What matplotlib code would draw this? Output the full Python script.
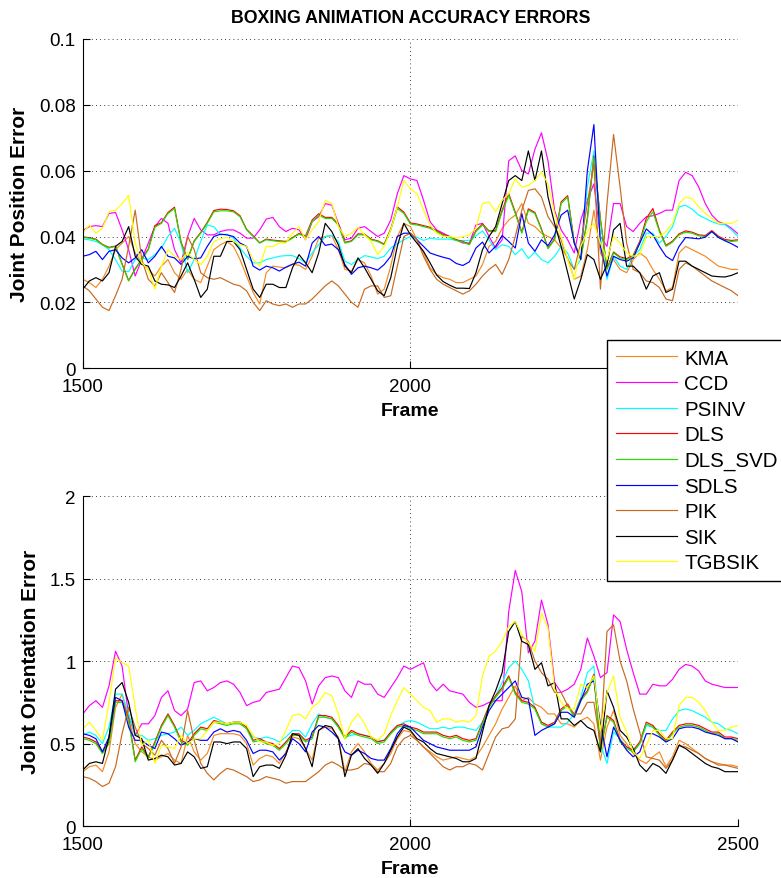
import numpy as np
import matplotlib
matplotlib.use("Agg")
import matplotlib.pyplot as plt

plt.rcParams['font.family'] = ['Liberation Sans', 'DejaVu Sans']

# frames sampled every 10
frames = np.arange(1500, 2501, 10)
names = ['KMA', 'CCD', 'PSINV', 'DLS', 'DLS_SVD', 'SDLS', 'PIK', 'SIK', 'TGBSIK']
colors = ['#f5891f', '#ff00ff', '#00ffff', '#ff0000', '#22dd00', '#0000ff', '#c8691e', '#000000', '#ffff00']

# joint position error, in units of 1e-3
pos_kma = [27, 26, 24.5, 27, 31, 36, 38, 40, 35, 32, 30, 28, 31, 33, 29, 27, 30, 27, 26, 31, 36, 37.5, 38.5, 37, 33, 28,
           23, 19.5, 29, 31, 30.7, 30.5, 31.5, 31.3, 30, 34, 39.5, 40, 40.3, 36, 30, 29.5, 33, 32, 28, 22.5, 24, 31, 40, 44, 43,
           39, 35, 30.5, 28.5, 27.5, 27, 26, 26, 27, 28, 31.5, 37, 38.5, 42.5, 45, 46.5, 50, 44, 43, 41, 40, 39, 36.5, 33.5, 27,
           28, 36, 48, 35, 31, 33, 30, 29, 33, 35, 33.5, 30, 27, 23.5, 24.5, 35, 37, 36, 35, 34, 32.5, 31, 30.5, 30, 30]
pos_ccd = [41.8, 43, 43.3, 43, 47, 47.3, 42, 36, 28, 33, 38, 43, 45.5, 44, 36, 32, 40, 45.5, 42, 40.5, 40.5, 41.5, 42, 42, 41, 39.5,
           39.5, 42, 45.3, 45.8, 43, 41.5, 42.5, 42, 39, 44.5, 46, 50, 49.5, 44, 39, 39.5, 42.5, 43, 41.5, 40, 41, 45, 53, 58.5, 57.5,
           57, 51, 44.5, 42, 41, 40, 39, 38, 38, 43.5, 44, 40, 36.5, 39, 63, 64.5, 60, 59, 66.5, 71.5, 63, 48, 42, 39, 35,
           45, 51, 56, 40, 37, 50, 50, 43, 41.5, 44, 46, 46.3, 47, 48, 48, 57, 59.5, 58.5, 55, 50, 46.5, 44.5, 43.8, 42.5, 40.8]
pos_psinv = [39.2, 39, 38.5, 37.5, 36, 33, 29.5, 29.3, 33, 33.5, 33, 34.5, 36.5, 40, 42.5, 38, 29, 33, 38.5, 43.5, 43, 40.5, 40.7, 39.5, 36.5, 34,
             32, 32, 33, 33.5, 34, 34.2, 34.2, 33.3, 32, 35, 37.5, 40, 40.3, 38.5, 32.5, 31.5, 33, 34.2, 33.8, 33.3, 34, 36.5, 37.8, 39, 40,
             39.8, 38.8, 39.5, 39.2, 39.2, 39.2, 38.8, 38.8, 38.8, 40.2, 41.7, 39, 36, 37.5, 37, 34.5, 36.3, 33.3, 35.3, 33, 32, 34, 37, 35, 30,
             33, 55, 66, 40, 27, 34, 31, 30, 34, 36, 41, 41, 38, 40, 43, 49, 49.5, 48.3, 46.5, 45.5, 44.5, 43.8, 43.6, 42, 40]
pos_dls = [39.9, 39.6, 39.2, 37.6, 36.7, 37.1, 31.7, 26.6, 30.2, 33.1, 36.2, 43.3, 44.2, 47.3, 48.9, 38.3, 33.1, 38.7, 41.2, 44.3, 47.9, 48.3, 48.2, 47.8, 46.3, 42.2,
           40.2, 38.1, 39.2, 38.9, 38.7, 38.5, 39.7, 40.9, 40.2, 45, 46.9, 45.8, 45.8, 43.8, 38.2, 38.7, 40.8, 40.7, 39.2, 38.7, 37.7, 42.3, 49, 47.4, 44.1,
           43.8, 43.3, 42.8, 41.8, 40.6, 40, 39, 38.5, 37.7, 41.8, 43.8, 41.7, 41.8, 48, 53, 47.4, 41.3, 48.4, 47.3, 42.3, 36.5, 39.3, 50.5, 52.4, 38.3,
           33.3, 45.5, 64.5, 45.3, 30.3, 35.3, 33.8, 33.3, 34.3, 38.5, 45.5, 48.5, 41.9, 37.3, 38.6, 40.8, 41.7, 41.3, 40.5, 40.3, 41.8, 40.1, 39.1, 38.8, 39]
pos_dls_svd = [39.7, 39.5, 39, 37.5, 36.5, 37, 31.5, 26.5, 30, 33, 36, 42.8, 44, 47, 48.5, 38, 33, 38.5, 41, 44, 47.5, 47.8, 47.8, 47.5, 46, 42,
               40, 38, 39, 38.7, 38.5, 38.3, 39.5, 40.7, 40, 44.5, 46.5, 45.5, 45.5, 43.5, 38, 38.5, 40.5, 40.5, 39, 38.5, 37.5, 42, 48.5, 47, 43.8,
               43.5, 43, 42.5, 41.5, 40.3, 39.8, 38.8, 38.3, 37.5, 41.5, 43.5, 41.5, 41.5, 47.5, 52.5, 47, 41, 48, 47, 42, 36.3, 39, 50, 52, 38,
               33, 45, 64, 45, 30, 35, 33.5, 33, 34, 38, 44.5, 47.5, 41.5, 37, 38.3, 40.5, 41.3, 41, 40.2, 40, 41.5, 39.8, 38.8, 38.5, 38.7]
pos_sdls = [34, 34.5, 35.5, 33, 35.5, 36, 33.5, 32, 33.5, 36, 32, 34, 37, 34, 33.5, 31.5, 34, 33.2, 33.5, 37, 40, 40.7, 40.5, 40, 38, 37,
            31, 29.8, 31, 30.5, 29.5, 30.7, 31.6, 32.2, 31, 38, 40, 37.3, 37.7, 36, 31.5, 28.5, 30.5, 31, 30.5, 29.8, 31.5, 34, 40, 41, 41,
            39, 37, 35, 34.3, 33.7, 33.2, 31.8, 31.2, 32.3, 36.5, 38.3, 35, 37, 40.3, 38.5, 36.5, 47, 38, 35.5, 39, 37.2, 40.5, 46.5, 48, 38,
            33, 60, 74, 37, 28, 34, 33, 32.5, 33.5, 38, 42.3, 40.5, 37, 34, 32.7, 37, 39.7, 39.5, 39.3, 39.8, 41.5, 39.7, 38.7, 37.8, 36.7]
pos_pik = [25, 23.5, 21, 18.5, 17.5, 22, 27, 37, 48, 33, 27, 25, 29, 26, 23, 30, 40, 36, 29, 27.5, 27, 27.5, 26.5, 25.5, 25, 23.5,
           20, 17.5, 20.5, 19.5, 19, 19.5, 18.5, 19.5, 19.5, 21, 23, 25, 26.5, 25, 22.5, 20, 18.5, 24, 25, 25, 21.5, 22, 31, 40, 41,
           39, 34, 30, 27, 25.5, 24.5, 23.5, 22.5, 23.5, 25.5, 28, 30, 31.5, 28.5, 33, 40, 48, 54, 54.5, 52, 46, 43, 39, 33, 30,
           38, 50, 62, 24, 50, 71, 55, 38, 30, 29, 26.5, 26, 24.5, 21, 20.5, 30, 32, 31, 29.5, 28, 26.5, 25.5, 24.5, 23.5, 22]
pos_sik = [24, 26.5, 27.5, 26.5, 29, 37, 38.5, 43, 34, 31.5, 31, 26.5, 25.5, 25.3, 24.5, 28, 32, 27, 21.5, 24, 34, 34, 38.5, 38.5, 36, 30,
           24, 21.5, 25.5, 25.5, 24.5, 24.5, 30.5, 34.5, 32, 29, 35, 44, 41.5, 37.5, 31, 29, 33.5, 30.5, 27, 23.5, 22, 27.5, 37, 44, 40.5,
           38, 35.5, 32, 28.3, 26.3, 25.2, 24.3, 24.3, 24.2, 29, 36, 40, 43, 50, 57, 58.5, 57, 66, 57, 66, 52, 44, 37, 29, 21,
           27, 34.5, 33, 27, 31.5, 42, 44, 31, 31, 29, 24, 28, 29, 23, 24, 32.5, 32.5, 31, 30, 29, 28, 27.8, 27.7, 28.2, 29]
pos_tgbsik = [41, 43.5, 41, 42.5, 47.5, 48, 50, 52.5, 38, 32, 30, 24, 31, 36, 34, 33, 35, 33, 31.5, 34, 38.5, 39.3, 39.8, 38.5, 37.5, 37,
              33, 31, 37, 37, 38, 38, 41, 43, 39, 42, 44.5, 51, 50, 43, 40, 41, 42.8, 40.5, 38.5, 34.5, 37, 42, 49, 57, 54.5,
              53, 48, 43.5, 41, 40, 40, 39.5, 40, 40.5, 42.5, 50, 50.5, 47.5, 51, 53, 57.5, 55, 55.5, 57, 59.5, 56, 47, 40, 33, 27,
              37, 41.5, 44, 38, 33, 40, 38, 35, 34, 34.5, 40, 40, 40, 41.5, 44, 50, 52, 51.5, 49, 47, 45.5, 44, 44, 44, 45]

# joint orientation error
ori_kma = [0.33, 0.36, 0.37, 0.33, 0.45, 0.72, 0.80, 0.65, 0.50, 0.45, 0.42, 0.40, 0.42, 0.44, 0.40, 0.38, 0.55, 0.45, 0.40, 0.44, 0.55, 0.56, 0.56, 0.56, 0.55, 0.50,
           0.37, 0.41, 0.43, 0.42, 0.38, 0.45, 0.54, 0.53, 0.47, 0.40, 0.58, 0.60, 0.59, 0.54, 0.33, 0.45, 0.50, 0.45, 0.38, 0.34, 0.38, 0.44, 0.53, 0.58, 0.57,
           0.52, 0.48, 0.45, 0.42, 0.40, 0.41, 0.42, 0.41, 0.40, 0.42, 0.48, 0.55, 0.62, 0.71, 0.78, 0.85, 0.76, 0.78, 0.74, 0.72, 0.68, 0.68, 0.62, 0.62, 0.60,
           0.64, 0.66, 0.62, 0.40, 0.60, 0.70, 0.55, 0.50, 0.44, 0.40, 0.38, 0.42, 0.45, 0.36, 0.42, 0.52, 0.50, 0.47, 0.44, 0.41, 0.39, 0.38, 0.37, 0.37, 0.36]
ori_ccd = [0.68, 0.73, 0.76, 0.72, 0.85, 1.06, 0.97, 0.67, 0.55, 0.62, 0.62, 0.67, 0.78, 0.82, 0.70, 0.67, 0.71, 0.87, 0.88, 0.82, 0.84, 0.87, 0.88, 0.86, 0.81, 0.73,
           0.75, 0.76, 0.81, 0.82, 0.83, 0.90, 0.97, 0.96, 0.88, 0.74, 0.85, 0.90, 0.91, 0.90, 0.82, 0.78, 0.88, 0.86, 0.86, 0.80, 0.78, 0.84, 0.90, 0.97, 0.95,
           0.97, 0.99, 0.87, 0.82, 0.86, 0.82, 0.81, 0.80, 0.75, 0.72, 0.73, 0.75, 0.76, 0.76, 1.30, 1.55, 1.42, 1.05, 1.12, 1.37, 1.22, 0.87, 0.81, 0.83, 0.86,
           0.95, 1.14, 1.03, 0.90, 0.93, 1.28, 1.24, 1.07, 0.93, 0.80, 0.80, 0.86, 0.85, 0.85, 0.89, 0.95, 0.98, 0.97, 0.94, 0.88, 0.86, 0.85, 0.84, 0.84, 0.84]
ori_psinv = [0.55, 0.57, 0.55, 0.50, 0.60, 0.80, 0.80, 0.68, 0.55, 0.55, 0.52, 0.53, 0.55, 0.56, 0.57, 0.60, 0.55, 0.58, 0.62, 0.64, 0.66, 0.64, 0.62, 0.63, 0.63, 0.60,
             0.54, 0.53, 0.54, 0.53, 0.51, 0.54, 0.58, 0.58, 0.54, 0.62, 0.68, 0.66, 0.65, 0.60, 0.54, 0.55, 0.56, 0.55, 0.54, 0.52, 0.52, 0.56, 0.60, 0.63, 0.64,
             0.63, 0.61, 0.59, 0.59, 0.60, 0.59, 0.60, 0.60, 0.59, 0.58, 0.63, 0.72, 0.79, 0.87, 0.96, 1.00, 0.95, 0.88, 0.71, 0.62, 0.60, 0.60, 0.60, 0.63, 0.68,
             0.78, 0.93, 0.97, 0.50, 0.38, 0.57, 0.53, 0.48, 0.45, 0.50, 0.61, 0.60, 0.58, 0.58, 0.65, 0.70, 0.71, 0.70, 0.68, 0.66, 0.63, 0.62, 0.59, 0.58, 0.56]
ori_dls = [0.54, 0.53, 0.51, 0.45, 0.51, 0.76, 0.76, 0.65, 0.40, 0.48, 0.42, 0.51, 0.61, 0.68, 0.61, 0.52, 0.50, 0.56, 0.60, 0.59, 0.64, 0.63, 0.62, 0.63, 0.63, 0.60,
           0.52, 0.53, 0.51, 0.50, 0.47, 0.51, 0.56, 0.56, 0.52, 0.54, 0.67, 0.67, 0.66, 0.61, 0.54, 0.58, 0.56, 0.55, 0.54, 0.51, 0.52, 0.57, 0.61, 0.62, 0.60,
           0.59, 0.57, 0.57, 0.57, 0.55, 0.54, 0.55, 0.53, 0.52, 0.53, 0.63, 0.73, 0.79, 0.84, 0.91, 0.81, 0.76, 0.75, 0.72, 0.63, 0.61, 0.63, 0.71, 0.74, 0.67,
           0.77, 0.82, 0.92, 0.46, 0.67, 0.64, 0.52, 0.48, 0.46, 0.51, 0.63, 0.61, 0.56, 0.52, 0.57, 0.61, 0.62, 0.62, 0.61, 0.59, 0.57, 0.57, 0.54, 0.54, 0.53]
ori_dls_svd = [0.53, 0.52, 0.50, 0.44, 0.50, 0.75, 0.75, 0.64, 0.39, 0.47, 0.41, 0.50, 0.60, 0.67, 0.60, 0.51, 0.49, 0.55, 0.59, 0.58, 0.63, 0.62, 0.61, 0.62, 0.62, 0.59,
               0.51, 0.52, 0.50, 0.49, 0.46, 0.50, 0.55, 0.55, 0.51, 0.53, 0.66, 0.66, 0.65, 0.60, 0.53, 0.57, 0.55, 0.54, 0.53, 0.50, 0.51, 0.56, 0.60, 0.61, 0.59,
               0.58, 0.56, 0.56, 0.56, 0.54, 0.53, 0.54, 0.52, 0.51, 0.52, 0.62, 0.72, 0.78, 0.83, 0.90, 0.80, 0.75, 0.74, 0.71, 0.62, 0.60, 0.62, 0.70, 0.73, 0.66,
               0.76, 0.81, 0.91, 0.45, 0.66, 0.63, 0.51, 0.47, 0.45, 0.50, 0.62, 0.60, 0.55, 0.51, 0.56, 0.60, 0.61, 0.61, 0.60, 0.58, 0.56, 0.56, 0.53, 0.53, 0.52]
ori_sdls = [0.56, 0.55, 0.53, 0.45, 0.54, 0.78, 0.76, 0.60, 0.52, 0.52, 0.49, 0.47, 0.57, 0.56, 0.53, 0.49, 0.51, 0.53, 0.52, 0.52, 0.57, 0.59, 0.57, 0.58, 0.57, 0.52,
            0.44, 0.46, 0.46, 0.45, 0.40, 0.44, 0.53, 0.50, 0.45, 0.57, 0.61, 0.60, 0.57, 0.53, 0.45, 0.43, 0.46, 0.44, 0.41, 0.40, 0.40, 0.47, 0.56, 0.61, 0.60,
            0.56, 0.52, 0.50, 0.48, 0.47, 0.46, 0.46, 0.46, 0.46, 0.48, 0.60, 0.70, 0.76, 0.80, 0.84, 0.88, 0.78, 0.77, 0.55, 0.58, 0.60, 0.62, 0.69, 0.69, 0.66,
            0.76, 0.86, 0.88, 0.62, 0.42, 0.60, 0.52, 0.46, 0.42, 0.45, 0.56, 0.56, 0.54, 0.51, 0.53, 0.59, 0.60, 0.60, 0.59, 0.57, 0.56, 0.55, 0.53, 0.53, 0.51]
ori_pik = [0.30, 0.29, 0.27, 0.24, 0.26, 0.36, 0.56, 0.72, 0.60, 0.50, 0.47, 0.43, 0.52, 0.47, 0.38, 0.48, 0.70, 0.52, 0.38, 0.32, 0.28, 0.32, 0.35, 0.34, 0.32, 0.30,
           0.27, 0.28, 0.30, 0.29, 0.28, 0.26, 0.27, 0.27, 0.27, 0.30, 0.33, 0.37, 0.39, 0.37, 0.34, 0.34, 0.35, 0.38, 0.37, 0.33, 0.33, 0.38, 0.48, 0.53, 0.55,
           0.52, 0.48, 0.44, 0.40, 0.36, 0.34, 0.36, 0.36, 0.38, 0.37, 0.34, 0.44, 0.54, 0.59, 0.60, 0.65, 1.15, 1.12, 1.00, 0.93, 0.89, 0.81, 0.81, 0.73, 0.68,
           0.68, 0.75, 0.75, 0.50, 1.18, 1.22, 1.00, 0.88, 0.71, 0.57, 0.42, 0.41, 0.40, 0.35, 0.40, 0.49, 0.48, 0.46, 0.44, 0.41, 0.39, 0.37, 0.37, 0.36, 0.35]
ori_sik = [0.34, 0.38, 0.39, 0.38, 0.54, 0.83, 0.87, 0.75, 0.55, 0.53, 0.40, 0.41, 0.43, 0.42, 0.37, 0.38, 0.45, 0.42, 0.35, 0.36, 0.51, 0.51, 0.50, 0.51, 0.51, 0.47,
           0.30, 0.36, 0.37, 0.37, 0.35, 0.43, 0.56, 0.55, 0.47, 0.36, 0.58, 0.61, 0.60, 0.53, 0.30, 0.43, 0.47, 0.41, 0.37, 0.32, 0.38, 0.46, 0.54, 0.60, 0.58,
           0.53, 0.51, 0.47, 0.44, 0.43, 0.42, 0.41, 0.39, 0.39, 0.41, 0.57, 0.73, 0.82, 0.93, 1.18, 1.24, 1.12, 1.10, 0.95, 0.99, 0.85, 0.87, 0.65, 0.65, 0.61,
           0.64, 0.60, 0.58, 0.45, 0.82, 0.72, 0.58, 0.54, 0.47, 0.37, 0.33, 0.38, 0.36, 0.32, 0.40, 0.49, 0.47, 0.44, 0.41, 0.38, 0.36, 0.35, 0.33, 0.33, 0.33]
ori_tgbsik = [0.59, 0.63, 0.58, 0.52, 0.75, 1.02, 0.99, 0.97, 0.72, 0.49, 0.52, 0.38, 0.49, 0.48, 0.47, 0.55, 0.50, 0.53, 0.53, 0.58, 0.63, 0.63, 0.62, 0.63, 0.63, 0.61,
              0.55, 0.51, 0.51, 0.49, 0.50, 0.58, 0.67, 0.68, 0.65, 0.72, 0.75, 0.81, 0.79, 0.68, 0.53, 0.63, 0.68, 0.62, 0.54, 0.52, 0.56, 0.67, 0.76, 0.84, 0.80,
              0.76, 0.72, 0.70, 0.63, 0.65, 0.65, 0.63, 0.64, 0.63, 0.67, 0.91, 1.03, 1.06, 1.12, 1.21, 1.24, 1.16, 1.11, 1.06, 1.29, 1.20, 0.83, 0.75, 0.71, 0.71,
              0.86, 0.84, 0.91, 0.58, 0.81, 0.91, 0.66, 0.57, 0.45, 0.41, 0.49, 0.58, 0.58, 0.53, 0.53, 0.73, 0.78, 0.78, 0.75, 0.70, 0.63, 0.58, 0.58, 0.60, 0.61]

pos_all = [pos_kma, pos_ccd, pos_psinv, pos_dls, pos_dls_svd, pos_sdls, pos_pik, pos_sik, pos_tgbsik]
ori_all = [ori_kma, ori_ccd, ori_psinv, ori_dls, ori_dls_svd, ori_sdls, ori_pik, ori_sik, ori_tgbsik]

fig = plt.figure(figsize=(7.81, 8.79), dpi=100)
ax1 = fig.add_axes([0.106, 0.580, 0.839, 0.3745])
ax2 = fig.add_axes([0.106, 0.059, 0.839, 0.3755])

lines = []
for name, col, vals in zip(names, colors, pos_all):
    ln, = ax1.plot(frames, np.array(vals) / 1000.0, color=col, lw=0.85, label=name)
    lines.append(ln)
for name, col, vals in zip(names, colors, ori_all):
    ax2.plot(frames, vals, color=col, lw=0.85)


def style(ax, ymax, yticks, ylabels, ylab):
    ax.set_xlim(1500, 2500)
    ax.set_ylim(0, ymax)
    ax.set_xticks([1500, 2000, 2500])
    ax.set_yticks(yticks)
    ax.set_yticklabels(ylabels)
    ax.grid(True, color='k', linestyle=(0, (1, 4)), linewidth=0.6)
    ax.spines['top'].set_visible(False)
    ax.spines['right'].set_visible(False)
    ax.tick_params(direction='in', length=5, labelsize=13.5, top=False, right=False)
    ax.tick_params(axis='x', pad=7)
    ax.tick_params(axis='y', pad=5)
    ax.set_xlabel('Frame', fontsize=14, fontweight='bold', labelpad=5)
    ax.set_ylabel(ylab, fontsize=15, fontweight='bold', labelpad=7)


style(ax1, 0.1, [0, 0.02, 0.04, 0.06, 0.08, 0.1], ['0', '0.02', '0.04', '0.06', '0.08', '0.1'], 'Joint Position Error')
style(ax2, 2, [0, 0.5, 1, 1.5, 2], ['0', '0.5', '1', '1.5', '2'], 'Joint Orientation Error')

ax1.set_title('BOXING ANIMATION ACCURACY ERRORS', fontsize=12.8, fontweight='bold', pad=12)

leg = fig.legend(handles=lines, loc='upper left', bbox_to_anchor=(0.7772, 0.6121),
                 borderaxespad=0, fontsize=14.8, handlelength=3.0, handletextpad=0.35,
                 labelspacing=0.32, borderpad=0.42, fancybox=False, framealpha=1, edgecolor='k')
leg.get_frame().set_linewidth(1.0)

fig.savefig('out.png', dpi=100)
